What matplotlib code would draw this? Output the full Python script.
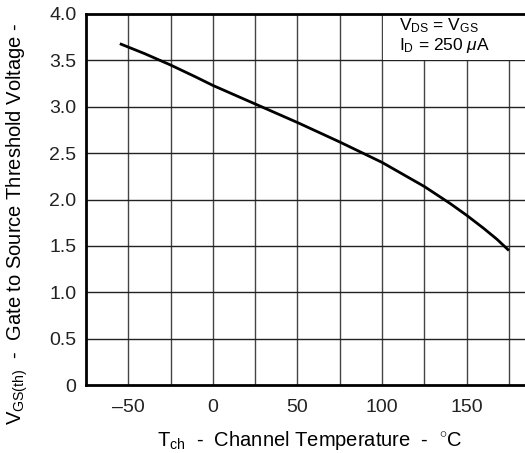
import matplotlib.pyplot as plt
import matplotlib.patches as patches
import numpy as np

plt.rcParams['font.family'] = ['Liberation Sans', 'DejaVu Sans']
plt.rcParams['mathtext.fontset'] = 'custom'
plt.rcParams['mathtext.rm'] = 'Liberation Sans'
plt.rcParams['mathtext.it'] = 'Liberation Sans:italic'

# curve
temp = [-55, -40, -25, -10, 0, 25, 50, 75, 100, 125, 140, 150, 160, 168, 175]
vth = [3.68, 3.57, 3.45, 3.32, 3.23, 3.03, 2.83, 2.62, 2.40, 2.14, 1.96, 1.83, 1.69, 1.57, 1.45]

xticks = [-50, 0, 50, 100, 150]
xticklabels = ['\u201350', '0', '50', '100', '150']
yticks = [0, 0.5, 1.0, 1.5, 2.0, 2.5, 3.0, 3.5, 4.0]
yticklabels = ['0', '0.5', '1.0', '1.5', '2.0', '2.5', '3.0', '3.5', '4.0']

fig = plt.figure(figsize=(5.25, 4.53), dpi=100)
ax = fig.add_axes([86 / 525, 1 - 385 / 453, 1 - 86 / 525, (385 - 14) / 453])

ax.set_xlim(-75, 184.5)
ax.set_ylim(0, 4.0)

# grid lines
for gx in np.arange(-50, 176, 25):
    ax.axvline(gx, color='#444444', lw=1.0, zorder=1)
for gy in yticks[1:-1]:
    ax.axhline(gy, color='#222222', lw=1.0, zorder=1)

# condition box (hides grid in top right cell row)
ax.add_patch(patches.Rectangle((100.6, 3.505), 90, 0.6, facecolor='white',
                               edgecolor='none', zorder=2))
ax.text(110, 3.875, r'V$_{\mathregular{DS}}$ = V$_{\mathregular{GS}}$', fontsize=12.5,
        va='center', ha='left', zorder=3)
ax.text(110, 3.655, r'I$_{\mathregular{D}}$ = 250 $\mathit{\mu}$A', fontsize=12.5,
        va='center', ha='left', zorder=3)

ax.plot(temp, vth, color='black', lw=2.0, zorder=4, solid_capstyle='butt')

ax.set_xticks(xticks)
ax.set_xticklabels(xticklabels, fontsize=14)
ax.set_yticks(yticks)
ax.set_yticklabels(yticklabels, fontsize=14)
ax.tick_params(length=0, pad=10, colors='#222222')
ax.tick_params(axis='y', pad=7)

for s in ['left', 'top', 'bottom']:
    ax.spines[s].set_linewidth(2.0)
ax.spines['right'].set_visible(False)

fig.text(310 / 525, 1 - 441 / 453, r'T$_{\mathregular{ch}}$  -  Channel Temperature  -  $^{\circ}$C',
         fontsize=14.5, ha='center', va='center')
fig.text(17 / 525, 1 - 224 / 453,
         r'V$_{\mathregular{GS(th)}}$  -  Gate to Source Threshold Voltage -',
         fontsize=14.5, ha='center', va='center', rotation=90)

fig.savefig('out.png', dpi=100)
